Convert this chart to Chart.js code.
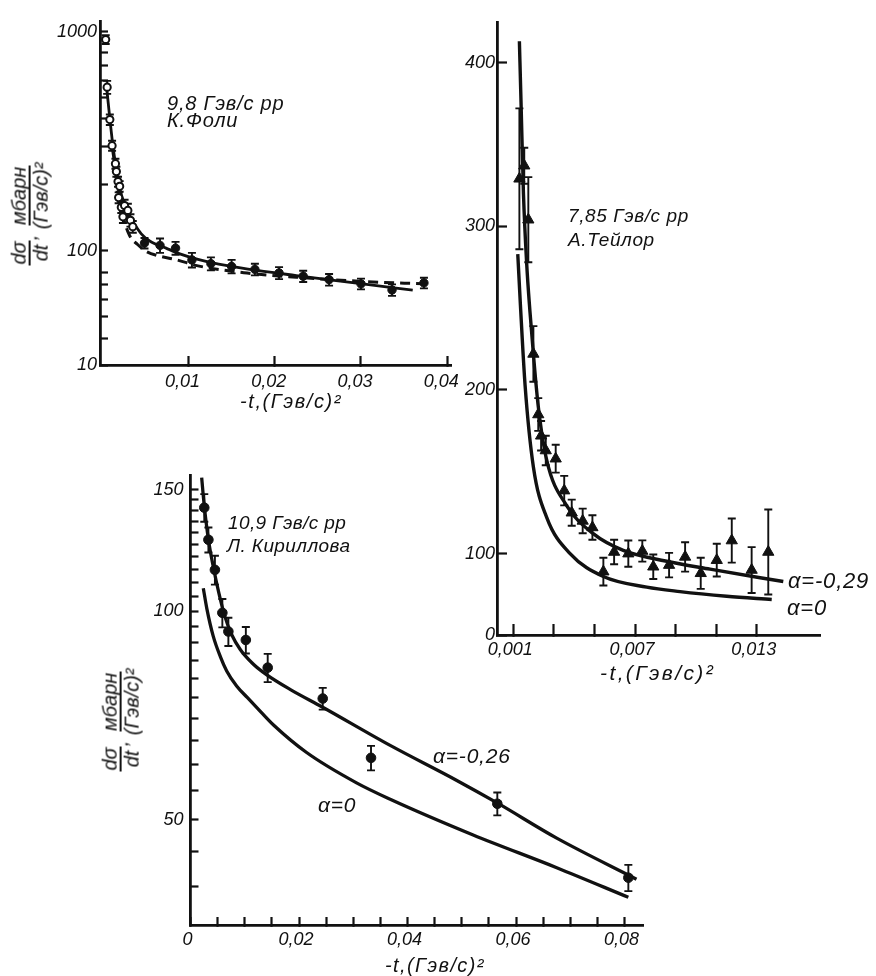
<!DOCTYPE html>
<html>
<head>
<meta charset="utf-8">
<script src="https://cdn.jsdelivr.net/npm/chart.js@4/dist/chart.umd.min.js"></script>
<style>
  html, body { margin: 0; padding: 0; background: #fff; }
  #page { position: relative; width: 876px; height: 976px; overflow: hidden; background: #fff; }
  canvas { position: absolute; }
  .txt { position: absolute; font-family: "Liberation Sans", Arial, sans-serif; font-style: italic;
         color: #111; white-space: nowrap; line-height: 1; }
  .ytitle { position: absolute; transform: translate(-50%, -50%) rotate(-90deg); display: flex;
            align-items: center; font-family: "Liberation Sans", Arial, sans-serif; font-style: italic;
            font-size: 20px; color: #111; white-space: nowrap; }
  .frac { display: inline-flex; flex-direction: column; align-items: center; line-height: 1.02; }
  .frac .num { border-bottom: 2px solid #111; padding: 0 1px; }
</style>
</head>
<body>
<div id="page">
  <canvas id="foley" width="480" height="420" style="left:0px;top:0px"></canvas>
  <canvas id="taylor" width="436" height="700" style="left:440px;top:0px"></canvas>
  <canvas id="kirillova" width="600" height="526" style="left:80px;top:450px"></canvas>

  <div class="ytitle" style="left:30px;top:214px">
    <span class="frac"><span class="num">dσ</span><span>dt</span></span><span>,&nbsp;</span><span class="frac"><span class="num">мбарн</span><span>(Гэв/с)²</span></span>
  </div>
  <div class="ytitle" style="left:121px;top:720px">
    <span class="frac"><span class="num">dσ</span><span>dt</span></span><span>,&nbsp;</span><span class="frac"><span class="num">мбарн</span><span>(Гэв/с)²</span></span>
  </div>
</div>
<script>
const INK = '#111';
const FONT = '"Liberation Sans", Arial, sans-serif';

// ---- panel 1: 9,8 ГэВ/с, К. Фоли (log y) ----
const p1OpenT = [0.0004, 0.00057, 0.00088, 0.00114, 0.00153, 0.00164, 0.00183, 0.0019, 0.00202, 0.00221, 0.0024, 0.00259, 0.00297, 0.00327, 0.00354];
const p1OpenY = [920, 558, 397, 302, 250, 230, 207, 175, 197, 158, 143, 161, 153, 138, 129];
const p1OpenErr = [42, 38, 22, 16, 13, 12, 11, 10, 11, 9, 9, 10, 11, 9, 8];
const p1FullT = [0.0049, 0.0067, 0.0085, 0.0104, 0.0126, 0.015, 0.0177, 0.0205, 0.0233, 0.0263, 0.030, 0.0336, 0.0373];
const p1FullY = [108.6, 106, 103, 91, 87.5, 85, 82.4, 79.4, 76.7, 74, 70.8, 66.4, 71.5];
const p1FullErr = [6, 8, 7, 7, 6, 6, 5, 5, 4.5, 4.5, 4, 4, 4];
const p1SolidT = [0.0005, 0.0008, 0.0012, 0.0016, 0.002, 0.0026, 0.0032, 0.0037, 0.0045, 0.0055, 0.0074, 0.009, 0.0111, 0.0135, 0.0169, 0.0225, 0.0302, 0.036];
const p1SolidY = [560, 430, 310, 240, 195, 162, 143, 133, 120, 111, 103, 97, 91.5, 87, 82.6, 77.2, 70.8, 66.2];
const p1DashT = [0.0012, 0.0018, 0.0025, 0.0032, 0.0041, 0.0052, 0.0065, 0.0085, 0.0111, 0.0168, 0.0225, 0.0302, 0.0372];
const p1DashY = [290, 200, 140, 117, 107, 99, 95, 91.4, 85.5, 79.3, 75.9, 72.6, 70.8];
const p1XTicks = [0.01, 0.02, 0.03, 0.04];
const p1XLabels = ['0,01', '0,02', '0,03', '0,04'];
const p1YTicks = [30.2, 40, 50, 60, 70, 80, 100, 200, 300, 400, 500, 600, 700, 800, 1000];
const p1YLabels = ['10', '', '', '', '', '', '100', '', '', '', '', '', '', '', '1000'];

// ---- panel 2: 7,85 ГэВ/с, А. Тейлор ----
const p2T = [0.0013, 0.00154, 0.00174, 0.00199, 0.00223, 0.00237, 0.0026, 0.00309, 0.00351, 0.00388, 0.00442, 0.0049, 0.00544, 0.00597, 0.00667, 0.00736, 0.0079, 0.00868, 0.00947, 0.01024, 0.01103, 0.01177, 0.01275, 0.01357];
const p2Y = [329, 337, 304, 222, 185, 172, 163, 158, 138.5, 125, 120, 116, 89, 101, 100, 101.6, 92, 93, 98, 88, 96, 108, 90, 101];
const p2Err = [43, 11, 26, 17, 10, 9, 9, 8.5, 9, 8, 7.5, 7.5, 8.5, 7.5, 8, 6.5, 7.5, 7.5, 9, 9.5, 10, 13.5, 14, 26];
const p2FitT = [0.0013, 0.00138, 0.0015, 0.00166, 0.00182, 0.00199, 0.00223, 0.00265, 0.00363, 0.00494, 0.00642, 0.0085, 0.0107, 0.01317, 0.01431];
const p2FitY = [413, 376, 320, 277, 248, 222, 190, 157, 129.4, 112.2, 102, 95.5, 90.5, 85.3, 83];
const p2ZeroT = [0.00122, 0.00135, 0.00158, 0.00199, 0.00265, 0.0038, 0.00544, 0.00758, 0.00922, 0.01152, 0.01374];
const p2ZeroY = [283, 252, 203, 153, 122, 100, 86, 79.5, 76.8, 74, 72];
const p2XTicks = [0.001, 0.003, 0.005, 0.007, 0.009, 0.011, 0.013];
const p2XLabels = ['0,001', '', '', '0,007', '', '', '0,013'];
const p2YTicks = [50.3, 100, 200, 300, 400];
const p2YLabels = ['0', '100', '200', '300', '400'];

// ---- panel 3: 10,9 ГэВ/с, Л. Кириллова (log y) ----
const p3T = [0.00254, 0.0033, 0.0045, 0.00587, 0.00698, 0.0102, 0.01423, 0.02437, 0.03327, 0.05655, 0.0807];
const p3Y = [141.2, 126.9, 114.8, 99.5, 93.5, 90.9, 82.9, 74.8, 61.4, 52.7, 41.2];
const p3Err = [6.5, 5.3, 5.5, 4.7, 4.4, 4, 3.9, 2.7, 2.5, 2, 1.8];
const p3FitT = [0.00206, 0.0025, 0.0033, 0.0042, 0.0052, 0.0063, 0.0076, 0.0092, 0.0115, 0.014, 0.0185, 0.0242, 0.0368, 0.049, 0.0566, 0.0675, 0.0822];
const p3FitY = [156, 143, 127, 116, 106.5, 98.5, 92.5, 88, 84, 81, 77, 72.8, 64, 57, 52.8, 47, 41];
const p3ZeroT = [0.00236, 0.003, 0.0042, 0.0055, 0.00667, 0.0085, 0.0105, 0.013, 0.0153, 0.0214, 0.0306, 0.0368, 0.0521, 0.0675, 0.0807];
const p3ZeroY = [108, 101, 92, 86, 82, 78, 75, 71.5, 68.5, 62.5, 56.5, 53.5, 47.5, 42.6, 38.6];
const p3XTicks = [0, 0.005, 0.01, 0.015, 0.02, 0.025, 0.03, 0.035, 0.04, 0.045, 0.05, 0.055, 0.06, 0.065, 0.07, 0.075, 0.08];
const p3XLabels = ['0', '', '', '', '0,02', '', '', '', '0,04', '', '', '', '0,06', '', '', '', '0,08'];
const p3YTicks = [40, 45, 50, 55, 60, 65, 70, 75, 80, 85, 90, 95, 100, 105, 110, 115, 120, 125, 130, 135, 140, 145, 150];
const p3YLabels = ['', '', '50', '', '', '', '', '', '', '', '', '', '100', '', '', '', '', '', '', '', '', '', '150'];

// free text on the figure: [text, left, centre y, font size, letter spacing]
const notes = [
  ['9,8 Гэв/с pp', 167, 103, 20, 0.8], ['К.Фоли', 167, 120, 20, 0.8],
  ['-t,(Гэв/с)²', 240, 401, 20, 1.6],
  ['7,85 Гэв/с pp', 568, 215, 19, 0.6], ['А.Тейлор', 568, 239, 19, 0.6],
  ['α=-0,29', 788, 581, 22, 0.8], ['α=0', 787, 608, 22, 0.8],
  ['-t,(Гэв/с)²', 600, 672, 21, 2.4],
  ['10,9 Гэв/с pp', 228, 522, 19, 0.4], ['Л. Кириллова', 227, 545, 19, 0.4],
  ['α=-0,26', 433, 755, 21, 0.8], ['α=0', 318, 804, 21, 0.8],
  ['-t,(Гэв/с)²', 385, 965, 20, 1.4]
];

const pts = (xs, ys) => xs.map((x, i) => ({ x: x, y: ys[i] }));

// vertical error bars, drawn under the markers
const errorBars = {
  id: 'errorBars',
  beforeDatasetsDraw(chart) {
    const ctx = chart.ctx;
    const ys = chart.scales.y;
    chart.data.datasets.forEach((ds, di) => {
      if (!ds.errors) return;
      const meta = chart.getDatasetMeta(di);
      ctx.save();
      ctx.strokeStyle = INK;
      ctx.lineWidth = 1.9;
      meta.data.forEach((el, i) => {
        const v = ds.data[i].y, e = ds.errors[i];
        const top = ys.getPixelForValue(v + e);
        const bot = ys.getPixelForValue(v - e);
        const c = 4;
        ctx.beginPath();
        ctx.moveTo(el.x, top); ctx.lineTo(el.x, bot);
        ctx.moveTo(el.x - c, top); ctx.lineTo(el.x + c, top);
        ctx.moveTo(el.x - c, bot); ctx.lineTo(el.x + c, bot);
        ctx.stroke();
      });
      ctx.restore();
    });
  }
};

function axis(opts) {
  return {
    type: opts.type || 'linear',
    position: opts.position,
    min: opts.min,
    max: opts.max,
    border: { display: true, color: INK, width: 2.8 },
    grid: { display: true, drawOnChartArea: false, drawTicks: true, tickLength: -opts.tick, tickWidth: 2.2, tickColor: INK },
    afterBuildTicks: s => { s.ticks = opts.ticks.map(v => ({ value: v })); },
    afterFit: s => { if (opts.position === 'left') s.width = opts.size; else s.height = opts.size; },
    ticks: {
      color: INK,
      font: { family: FONT, style: 'italic', size: 18 },
      padding: opts.pad,
      labelOffset: opts.labelOffset || 0,
      autoSkip: false,
      maxRotation: 0,
      minRotation: 0,
      callback: (v, i) => opts.labels[i]
    }
  };
}

function marks(xs, ys, errs, style) {
  return Object.assign({ data: pts(xs, ys), errors: errs, showLine: false, pointBorderColor: INK, pointBackgroundColor: INK }, style);
}

function curve(xs, ys, extra) {
  return Object.assign({ data: pts(xs, ys), showLine: true, pointRadius: 0, borderColor: INK, borderWidth: 3,
    fill: false, cubicInterpolationMode: 'monotone' }, extra || {});
}

function makeChart(id, datasets, padding, xAxis, yAxis) {
  return new Chart(document.getElementById(id), {
    type: 'scatter',
    data: { datasets: datasets },
    options: {
      responsive: false,
      animation: false,
      events: [],
      devicePixelRatio: 1,
      layout: { padding: padding },
      plugins: { legend: { display: false }, tooltip: { enabled: false } },
      scales: { x: xAxis, y: yAxis }
    },
    plugins: [errorBars]
  });
}

makeChart('foley', [
  marks(p1OpenT, p1OpenY, p1OpenErr, { pointRadius: 3.6, pointBorderWidth: 2, pointBackgroundColor: '#fff' }),
  marks(p1FullT, p1FullY, p1FullErr, { pointRadius: 4.2, pointBorderWidth: 1 }),
  curve(p1SolidT, p1SolidY, { borderWidth: 2.8 }),
  curve(p1DashT, p1DashY, { borderWidth: 3, borderDash: [10, 6] })
], { left: 0, top: 13, right: 23, bottom: 0 },
  axis({ position: 'bottom', min: -0.00026, max: 0.04046, ticks: p1XTicks, labels: p1XLabels, tick: 9, pad: 15, size: 55, labelOffset: -6 }),
  axis({ type: 'logarithmic', position: 'left', min: 30.2, max: 1108, ticks: p1YTicks, labels: p1YLabels, tick: 8, pad: 11, size: 100 })
);

makeChart('taylor', [
  marks(p2T, p2Y, p2Err, { pointStyle: 'triangle', pointRadius: 6.5, pointBorderWidth: 1 }),
  curve(p2FitT, p2FitY, { borderWidth: 3.4 }),
  curve(p2ZeroT, p2ZeroY, { borderWidth: 3.4 })
], { left: 0, top: 20, right: 56, bottom: 0 },
  axis({ position: 'bottom', min: 0.000196, max: 0.01612, ticks: p2XTicks, labels: p2XLabels, tick: 11, pad: 15, size: 65, labelOffset: -3 }),
  axis({ position: 'left', min: 50.3, max: 424.3, ticks: p2YTicks, labels: p2YLabels, tick: 10, pad: 12, size: 57 })
);

makeChart('kirillova', [
  marks(p3T, p3Y, p3Err, { pointRadius: 4.8, pointBorderWidth: 1 }),
  curve(p3FitT, p3FitY, { borderWidth: 3.3 }),
  curve(p3ZeroT, p3ZeroY, { borderWidth: 3.3 })
], { left: 0, top: 15, right: 37, bottom: 0 },
  axis({ position: 'bottom', min: 0, max: 0.0834, ticks: p3XTicks, labels: p3XLabels, tick: 8, pad: 12, size: 51, labelOffset: -3 }),
  axis({ type: 'logarithmic', position: 'left', min: 35.2, max: 157, ticks: p3YTicks, labels: p3YLabels, tick: 8, pad: 15, size: 110.5 })
);

const page = document.getElementById('page');
notes.forEach(n => {
  const d = document.createElement('div');
  d.className = 'txt';
  d.textContent = n[0];
  d.style.fontSize = n[3] + 'px';
  d.style.left = n[1] + 'px';
  d.style.top = (n[2] - n[3] / 2) + 'px';
  d.style.letterSpacing = n[4] + 'px';
  page.appendChild(d);
});
</script>
</body>
</html>
